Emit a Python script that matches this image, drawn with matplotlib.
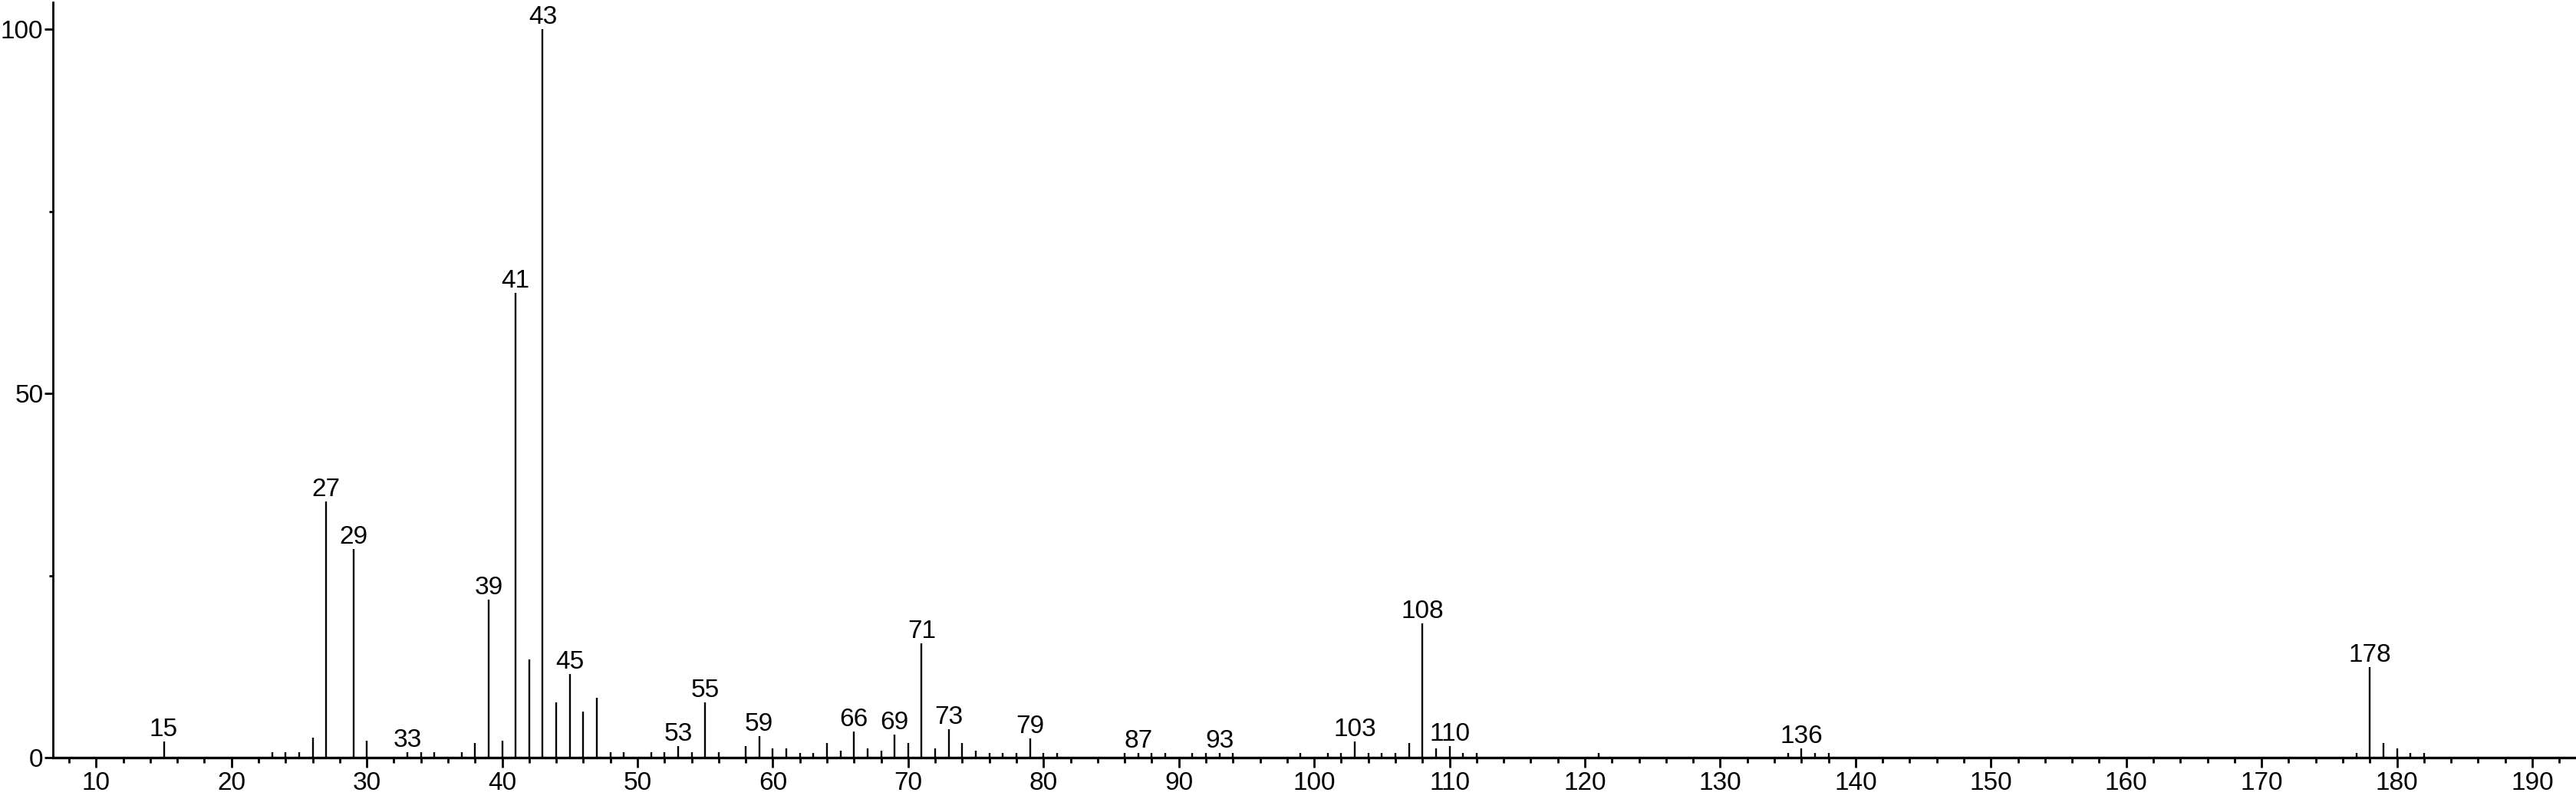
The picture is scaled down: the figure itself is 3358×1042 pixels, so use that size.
import numpy as np
import matplotlib.pyplot as plt
from matplotlib.ticker import MultipleLocator

plt.rcParams['font.family'] = ['Liberation Sans', 'DejaVu Sans']

# m/z values and relative intensities
mz = [15, 23, 24, 25, 26, 27, 29, 30, 33, 34, 35, 37, 38, 39, 40, 41, 42, 43,
      44, 45, 46, 47, 48, 49, 51, 52, 53, 54, 55, 56, 58, 59, 60, 61, 62, 63,
      64, 65, 66, 67, 68, 69, 70, 71, 72, 73, 74, 75, 76, 77, 78, 79, 80, 81,
      86, 87, 88, 89, 91, 92, 93, 94, 99, 101, 102, 103, 104, 105, 106, 107,
      108, 109, 110, 111, 112, 121, 135, 136, 137, 138, 177, 178, 179, 180,
      181, 182]
intensity = [2.2, 0.7, 0.7, 0.7, 2.7, 35.2, 28.6, 2.3, 0.7, 0.7, 0.7, 0.7, 2.0,
             21.7, 2.3, 63.8, 13.5, 100.0, 7.6, 11.5, 6.3, 8.2, 0.7, 0.7, 0.7,
             0.7, 1.6, 0.7, 7.6, 0.7, 1.6, 2.9, 1.3, 1.3, 0.6, 0.6, 2.0, 0.9,
             3.6, 1.3, 0.9, 3.2, 2.0, 15.7, 1.3, 3.9, 2.0, 0.9, 0.6, 0.6, 0.6,
             2.6, 0.6, 0.6, 0.6, 0.6, 0.6, 0.6, 0.6, 0.6, 0.6, 0.6, 0.6, 0.6,
             0.6, 2.2, 0.6, 0.6, 0.6, 2.0, 18.4, 1.3, 1.6, 0.6, 0.6, 0.6, 0.6,
             1.3, 0.6, 0.6, 0.6, 12.4, 2.0, 1.3, 0.6, 0.6]
labeled = [15, 27, 29, 33, 39, 41, 43, 45, 53, 55, 59, 66, 69, 71, 73, 79, 87,
           93, 103, 108, 110, 136, 178]

fig = plt.figure(figsize=(33.58, 10.42), dpi=100)
ax = fig.add_axes([0.0205, 0.0518, 0.9788, 0.9453])

ax.vlines(mz, 0, intensity, colors='black', linewidth=1.7)

peaks = dict(zip(mz, intensity))
for m in labeled:
    ax.annotate(str(m), (m, peaks[m]), xytext=(0, 0), textcoords='offset points',
                ha='center', va='bottom', fontsize=24)

ax.set_xlim(6.8, 193.1)
ax.set_ylim(0, 103.7)

ax.xaxis.set_major_locator(MultipleLocator(10))
ax.xaxis.set_minor_locator(MultipleLocator(2))
ax.yaxis.set_major_locator(MultipleLocator(50))
ax.yaxis.set_minor_locator(MultipleLocator(25))

ax.spines['top'].set_visible(False)
ax.spines['right'].set_visible(False)
ax.spines['left'].set_linewidth(2.0)
ax.spines['bottom'].set_linewidth(2.4)

ax.tick_params(axis='x', which='major', length=9, width=2.0, labelsize=24, pad=4)
ax.tick_params(axis='x', which='minor', length=5, width=2.0)
ax.tick_params(axis='y', which='major', length=8, width=2.0, labelsize=24, pad=1)
ax.tick_params(axis='y', which='minor', length=3.5, width=2.0)

fig.savefig('out.png', dpi=100)
